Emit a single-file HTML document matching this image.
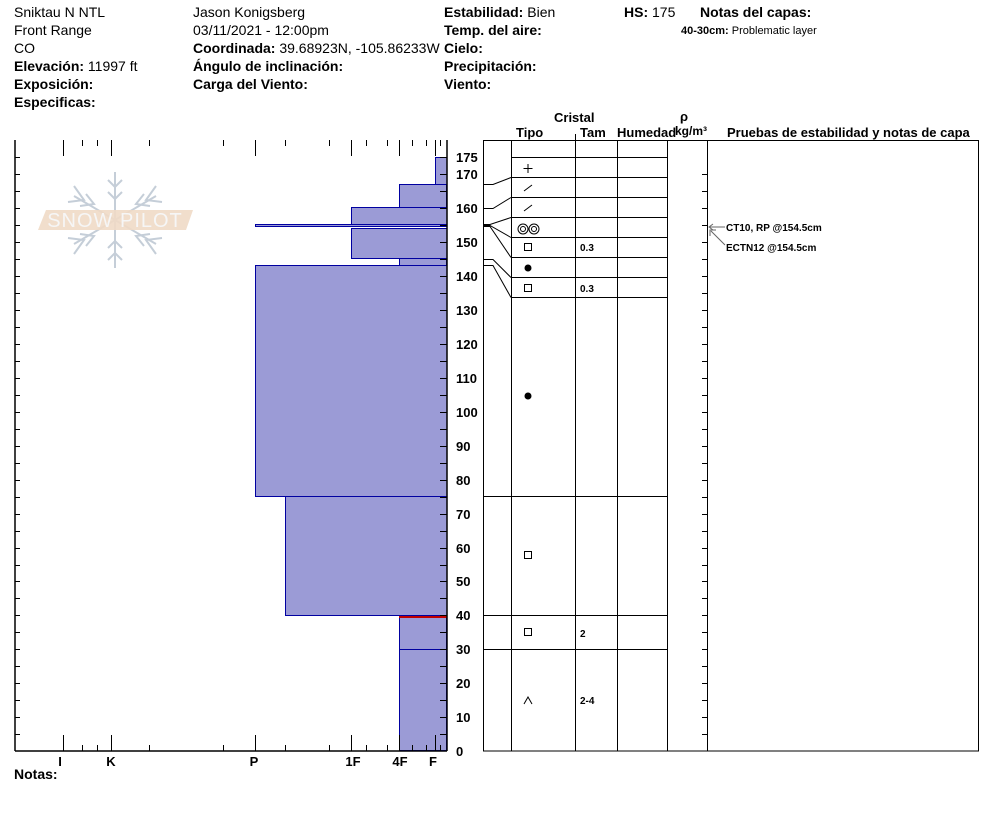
<!DOCTYPE html>
<html><head><meta charset="utf-8"><style>
body{margin:0;background:#fff;}
svg{display:block;font-family:"Liberation Sans",Arial,sans-serif;}
.b{font-weight:bold}
</style></head><body>
<svg width="994" height="840" viewBox="0 0 994 840" xmlns="http://www.w3.org/2000/svg">
<g font-size="14" fill="#000">
<text x="14" y="17">Sniktau N NTL</text>
<text x="14" y="35">Front Range</text>
<text x="14" y="53">CO</text>
<text x="14" y="71"><tspan class="b">Elevación:</tspan> 11997 ft</text>
<text x="14" y="89" class="b">Exposición:</text>
<text x="14" y="107" class="b">Especificas:</text>
<text x="193" y="17">Jason Konigsberg</text>
<text x="193" y="35">03/11/2021 - 12:00pm</text>
<text x="193" y="53"><tspan class="b">Coordinada:</tspan> 39.68923N, -105.86233W</text>
<text x="193" y="71" class="b">Ángulo de inclinación:</text>
<text x="193" y="89" class="b">Carga del Viento:</text>
<text x="444" y="17"><tspan class="b">Estabilidad:</tspan> Bien</text>
<text x="444" y="35" class="b">Temp. del aire:</text>
<text x="444" y="53" class="b">Cielo:</text>
<text x="444" y="71" class="b">Precipitación:</text>
<text x="444" y="89" class="b">Viento:</text>
<text x="624" y="17"><tspan class="b">HS:</tspan> 175</text>
<text x="700" y="17" class="b">Notas del capas:</text>
<text x="681" y="34" font-size="11"><tspan class="b">40-30cm:</tspan> Problematic layer</text>
<text x="14" y="779" class="b">Notas:</text>
</g>
<!-- logo -->
<g stroke="#c5ced8" stroke-width="2" fill="none">
<line x1="115" y1="172" x2="115" y2="268"/>
<line x1="74" y1="196" x2="156" y2="244"/>
<line x1="74" y1="244" x2="156" y2="196"/>
<path d="M108 180l7 7l7 -7M108 192l7 7l7 -7M108 260l7 -7l7 7M108 248l7 -7l7 7"/>
<path d="M74 186l10 14l-16 2M86 194l8 10l-14 2M156 186l-10 14l16 2M144 194l-8 10l14 2"/>
<path d="M74 254l10 -14l-16 -2M86 246l8 -10l-14 -2M156 254l-10 -14l16 -2M144 246l-8 -10l14 -2"/>
</g>
<polygon points="46,210 193,210 186,230 38,230" fill="#f0dac6" opacity="0.9"/>
<text x="115" y="227" font-size="20" fill="#f6f6f6" text-anchor="middle" letter-spacing="1">SNOW PILOT</text>
<!-- hardness bars -->
<g fill="#9b9bd6" stroke="#0000a0" stroke-width="1">
<rect x="399.5" y="615.5" width="47" height="135"/>
<line x1="399.5" y1="649.5" x2="447" y2="649.5"/>
<rect x="285.5" y="496.5" width="161.5" height="119"/>
<rect x="255.5" y="265.5" width="191.5" height="231"/>
<rect x="399.5" y="258.5" width="47" height="7"/>
<rect x="351.5" y="228.5" width="95.5" height="30"/>
<rect x="255.5" y="224.5" width="191.5" height="2"/>
<rect x="351.5" y="207.5" width="95.5" height="17"/>
<rect x="399.5" y="184.5" width="47" height="23"/>
<rect x="435.5" y="157.5" width="11.5" height="27"/>
</g>
<line x1="399" y1="617" x2="447" y2="617" stroke="#c00000" stroke-width="2"/>
<!-- left frame -->
<g stroke="#000" stroke-width="1.5" fill="none">
<line x1="15" y1="140" x2="15" y2="751"/>
<line x1="447" y1="140" x2="447" y2="751"/>
<line x1="15" y1="751" x2="447" y2="751"/>
</g>
<g stroke="#000" stroke-width="1">
<path d="M15 157.5h5M15 174.5h5M15 191.5h5M15 208.5h5M15 225.5h5M15 242.5h5M15 259.5h5M15 276.5h5M15 293.5h5M15 310.5h5M15 327.5h5M15 344.5h5M15 361.5h5M15 378.5h5M15 395.5h5M15 412.5h5M15 429.5h5M15 446.5h5M15 463.5h5M15 480.5h5M15 497.5h5M15 514.5h5M15 531.5h5M15 548.5h5M15 565.5h5M15 581.5h5M15 598.5h5M15 615.5h5M15 632.5h5M15 649.5h5M15 666.5h5M15 683.5h5M15 700.5h5M15 717.5h5M15 734.5h5"/>
<path d="M447 157.5h-7M447 174.5h-7M447 191.5h-7M447 208.5h-7M447 225.5h-7M447 242.5h-7M447 259.5h-7M447 276.5h-7M447 293.5h-7M447 310.5h-7M447 327.5h-7M447 344.5h-7M447 361.5h-7M447 378.5h-7M447 395.5h-7M447 412.5h-7M447 429.5h-7M447 446.5h-7M447 463.5h-7M447 480.5h-7M447 497.5h-7M447 514.5h-7M447 531.5h-7M447 548.5h-7M447 565.5h-7M447 581.5h-7M447 598.5h-7M447 615.5h-7M447 632.5h-7M447 649.5h-7M447 666.5h-7M447 683.5h-7M447 700.5h-7M447 717.5h-7M447 734.5h-7"/>
<path d="M63.5 140v16M111.5 140v16M255.5 140v16M351.5 140v16M399.5 140v16M435.5 140v16M82.5 140v6M97.5 140v6M149.5 140v6M223.5 140v6M285.5 140v6M329.5 140v6M366.5 140v6M387.5 140v6M412.5 140v6M426.5 140v6M440.5 140v6"/>
<path d="M63.5 751v-16M111.5 751v-16M255.5 751v-16M351.5 751v-16M399.5 751v-16M435.5 751v-16M82.5 751v-6M97.5 751v-6M149.5 751v-6M223.5 751v-6M285.5 751v-6M329.5 751v-6M366.5 751v-6M387.5 751v-6M412.5 751v-6M426.5 751v-6M440.5 751v-6"/>
</g>
<g font-size="13" font-weight="bold" text-anchor="middle">
<text x="60" y="766">I</text><text x="111" y="766">K</text><text x="254" y="766">P</text>
<text x="353" y="766">1F</text><text x="400" y="766">4F</text><text x="433" y="766">F</text>
</g>
<g font-size="13" font-weight="bold">
<text x="456" y="162">175</text><text x="456" y="179">170</text>
<text x="456" y="213">160</text><text x="456" y="247">150</text><text x="456" y="281">140</text>
<text x="456" y="315">130</text><text x="456" y="349">120</text><text x="456" y="383">110</text>
<text x="456" y="417">100</text><text x="456" y="451">90</text><text x="456" y="485">80</text>
<text x="456" y="519">70</text><text x="456" y="553">60</text><text x="456" y="586">50</text>
<text x="456" y="620">40</text><text x="456" y="654">30</text><text x="456" y="688">20</text>
<text x="456" y="722">10</text><text x="456" y="756">0</text>
</g>
<!-- right frame -->
<g stroke="#000" stroke-width="1" fill="none">
<rect x="483.5" y="140.5" width="495" height="610.5"/>
<path d="M511.5 140v611M575.5 140v611M617.5 140v611M667.5 140v611M707.5 140v611"/>
<path d="M511 157.5h156M511 177.5h156M511 197.5h156M511 217.5h156M511 237.5h156M511 257.5h156M511 277.5h156M511 297.5h156M483 496.5h184M483 615.5h184M483 649.5h184"/>
<path d="M483 184.5h10l18 -7M483 208.5h10l18 -11M483 224.5h7l21 -7M483 225.5h7l21 12M483 226.5h7l21 31M483 259.5h10l18 18M483 265.5h10l18 32"/>
<path d="M707 174.5h-5M707 191.5h-5M707 208.5h-5M707 225.5h-5M707 242.5h-5M707 259.5h-5M707 276.5h-5M707 293.5h-5M707 310.5h-5M707 327.5h-5M707 344.5h-5M707 361.5h-5M707 378.5h-5M707 395.5h-5M707 412.5h-5M707 429.5h-5M707 446.5h-5M707 463.5h-5M707 480.5h-5M707 497.5h-5M707 514.5h-5M707 531.5h-5M707 548.5h-5M707 565.5h-5M707 581.5h-5M707 598.5h-5M707 615.5h-5M707 632.5h-5M707 649.5h-5M707 666.5h-5M707 683.5h-5M707 700.5h-5M707 717.5h-5M707 734.5h-5"/>
<line x1="575.5" y1="134" x2="575.5" y2="140"/>
</g>
<g font-size="13" font-weight="bold">
<text x="554" y="122">Cristal</text>
<text x="516" y="137">Tipo</text><text x="580" y="137">Tam</text>
<text x="617" y="137">Humedad</text>
<text x="680" y="121">ρ</text>
<text x="675" y="135" font-size="12">kg/m³</text>
<text x="727" y="137">Pruebas de estabilidad y notas de capa</text>
</g>
<g stroke="#000" stroke-width="1" fill="none">
<path d="M528 164v9M523.5 168.5h9"/>
<path d="M524 191l8 -6M524 211l8 -6"/>
<circle cx="523" cy="229" r="5"/><circle cx="523" cy="229" r="2.5"/>
<circle cx="534" cy="229" r="5"/><circle cx="534" cy="229" r="2.5"/>
<rect x="524.5" y="243.5" width="7" height="7"/>
<rect x="524.5" y="284.5" width="7" height="7"/>
<rect x="524.5" y="551.5" width="7" height="7"/>
<rect x="524.5" y="628.5" width="7" height="7"/>
<path d="M524 704l4 -7l4 7"/>
</g>
<circle cx="528" cy="268" r="3.5"/>
<circle cx="528" cy="396" r="3.5"/>
<g font-size="10" font-weight="bold">
<text x="580" y="251">0.3</text><text x="580" y="292">0.3</text>
<text x="580" y="637">2</text><text x="580" y="704">2-4</text>
<text x="726" y="231">CT10, RP @154.5cm</text>
<text x="726" y="251">ECTN12 @154.5cm</text>
</g>
<g stroke="#666" fill="none">
<path d="M725 227h-15M713 224l-4 3l4 3"/>
<path d="M725 245l-14 -14M710 236v-6h6"/>
</g>
</svg>
</body></html>
